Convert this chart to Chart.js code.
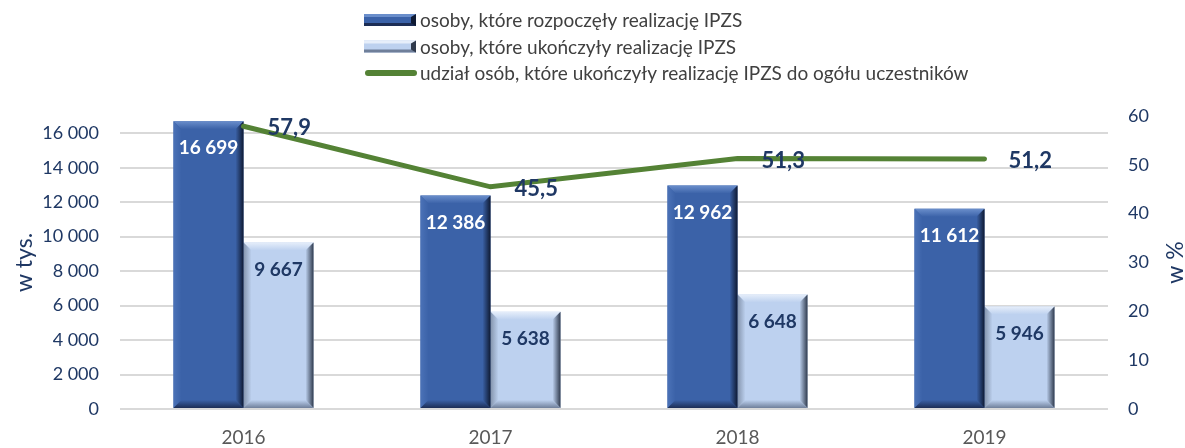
<!DOCTYPE html>
<html>
<head>
<meta charset="utf-8">
<script src="https://cdn.jsdelivr.net/npm/chart.js@4"></script>
<style>
  body { margin: 0; background: #fff; }
  #wrap { width: 1185px; height: 448px; position: relative; }
</style>
</head>
<body>
<div id="wrap"><canvas id="ipzsChart"></canvas></div>
<script>
const years = ["2016", "2017", "2018", "2019"];
const started = [16699, 12386, 12962, 11612];
const finished = [9667, 5638, 6648, 5946];
const sharePct = [57.9, 45.5, 51.3, 51.2];

const leftTicks = [0, 2000, 4000, 6000, 8000, 10000, 12000, 14000, 16000];

const labelStarted = "osoby, które rozpoczęły realizację IPZS";
const labelFinished = "osoby, które ukończyły realizację IPZS";
const labelShare = "udział osób, które ukończyły realizację IPZS do ogółu uczestników";

const navy = "#1F3864";
const FONT = "Lato, 'Open Sans', sans-serif";

const fmtThousands = (n) => String(n).replace(/\B(?=(\d{3})+(?!\d))/g, " ");
const fmtPct = (v) => v.toFixed(1).replace(".", ",");

// bevel colours per bar dataset: face, top (outer), left (outer), right (outer), bottom (outer)
const bevels = [
  { face: "#3B62A8", top: "#6a8ecb", left: "#4b72b7", right: "#0f1a33", bottom: "#1c2d55" },
  { face: "#BDD1EF", top: "#e6eefa", left: "#8494ad", right: "#2f3a4d", bottom: "#6f7f9a" }
];

function drawBevel(ctx, L, T, R, B, c) {
  const b = 8;
  const poly = (pts, fill) => {
    ctx.beginPath();
    ctx.moveTo(pts[0][0], pts[0][1]);
    for (let i = 1; i < pts.length; i++) ctx.lineTo(pts[i][0], pts[i][1]);
    ctx.closePath();
    ctx.fillStyle = fill;
    ctx.fill();
  };
  const grad = (x0, y0, x1, y1, outer) => {
    const g = ctx.createLinearGradient(x0, y0, x1, y1);
    g.addColorStop(0, outer);
    g.addColorStop(1, c.face);
    return g;
  };
  poly([[L, T], [R, T], [R - b, T + b], [L + b, T + b]], grad(0, T, 0, T + b, c.top));
  poly([[L, T], [L + b, T + b], [L + b, B - b], [L, B]], grad(L, 0, L + b, 0, c.left));
  poly([[R, T], [R, B], [R - b, B - b], [R - b, T + b]], grad(R, 0, R - b, 0, c.right));
  poly([[L, B], [R, B], [R - b, B - b], [L + b, B - b]], grad(0, B, 0, B - b, c.bottom));
}

const bevelPlugin = {
  id: "bevel",
  afterDatasetDraw(chart, args) {
    if (args.index > 1) return;
    const ctx = chart.ctx;
    ctx.save();
    args.meta.data.forEach((bar) => {
      const p = bar.getProps(["x", "y", "base", "width"], true);
      drawBevel(ctx, p.x - p.width / 2, p.y, p.x + p.width / 2, p.base, bevels[args.index]);
    });
    ctx.restore();
  }
};

const labelsPlugin = {
  id: "valueLabels",
  afterDatasetsDraw(chart) {
    const ctx = chart.ctx;
    ctx.save();
    ctx.font = "bold 19px " + FONT;
    ctx.textBaseline = "middle";
    [0, 1].forEach((di) => {
      const meta = chart.getDatasetMeta(di);
      meta.data.forEach((bar, i) => {
        ctx.fillStyle = di === 0 ? "#ffffff" : navy;
        ctx.textAlign = "center";
        ctx.fillText(fmtThousands(chart.data.datasets[di].data[i]), bar.x, bar.y + 27);
      });
    });
    ctx.font = "bold 22px " + FONT;
    const lm = chart.getDatasetMeta(2);
    lm.data.forEach((pt, i) => {
      ctx.fillStyle = navy;
      ctx.textAlign = "left";
      ctx.fillText(fmtPct(sharePct[i]), pt.x + 24, pt.y + 2);
    });

    // right axis title, reading bottom-to-top
    ctx.save();
    ctx.translate(1176, (chart.chartArea.top + chart.chartArea.bottom) / 2);
    ctx.rotate(-Math.PI / 2);
    ctx.font = "23px " + FONT;
    ctx.fillStyle = navy;
    ctx.textAlign = "center";
    ctx.fillText("w %", 0, 0);
    ctx.restore();

    // legend
    const rows = [
      { text: labelStarted, kind: 0 },
      { text: labelFinished, kind: 1 },
      { text: labelShare, kind: 2 }
    ];
    ctx.font = "19px " + FONT;
    ctx.textAlign = "left";
    rows.forEach((r, i) => {
      const y = 20 + i * 26.5;
      if (r.kind < 2) {
        const c = bevels[r.kind];
        ctx.fillStyle = c.face;
        ctx.fillRect(364, y - 6, 52, 12);
        ctx.fillStyle = c.top;
        ctx.fillRect(364, y - 6, 52, 3);
        ctx.fillStyle = c.bottom;
        ctx.fillRect(364, y + 3, 52, 3);
        ctx.fillStyle = c.right;
        ctx.beginPath();
        ctx.moveTo(416, y - 6); ctx.lineTo(416, y + 6); ctx.lineTo(411, y + 3); ctx.lineTo(411, y - 3);
        ctx.closePath(); ctx.fill();
      } else {
        ctx.strokeStyle = "#548235";
        ctx.lineWidth = 6;
        ctx.lineCap = "round";
        ctx.beginPath();
        ctx.moveTo(368, y); ctx.lineTo(414, y);
        ctx.stroke();
      }
      ctx.fillStyle = "#404040";
      ctx.fillText(r.text, 420, y + 1);
    });
    ctx.restore();
  }
};

new Chart(document.getElementById("ipzsChart"), {
  data: {
    labels: years,
    datasets: [
      {
        type: "bar",
        label: labelStarted,
        data: started,
        backgroundColor: bevels[0].face,
        yAxisID: "y",
        categoryPercentage: 0.567,
        barPercentage: 1.0,
        order: 1
      },
      {
        type: "bar",
        label: labelFinished,
        data: finished,
        backgroundColor: bevels[1].face,
        yAxisID: "y",
        categoryPercentage: 0.567,
        barPercentage: 1.0,
        order: 1
      },
      {
        type: "line",
        label: labelShare,
        data: sharePct,
        borderColor: "#548235",
        borderWidth: 5,
        borderCapStyle: "round",
        pointRadius: 0,
        tension: 0,
        yAxisID: "y1",
        order: 0
      }
    ]
  },
  options: {
    responsive: true,
    maintainAspectRatio: false,
    animation: false,
    layout: { padding: { top: 116, left: 0, right: 0, bottom: 0 } },
    plugins: {
      legend: { display: false },
      tooltip: { enabled: false }
    },
    scales: {
      x: {
        grid: { display: false, drawTicks: false },
        border: { display: false },
        ticks: { color: "#595959", font: { family: FONT, size: 19 }, padding: 17 },
        afterFit(s) { s.height = 39; }
      },
      y: {
        position: "left",
        min: 0,
        max: 17000,
        ticks: {
          stepSize: 2000,
          color: navy,
          font: { family: FONT, size: 18 },
          padding: 21,
          callback: (v) => fmtThousands(v)
        },
        afterBuildTicks(s) {
          s.ticks = leftTicks.map((v) => ({ value: v }));
        },
        grid: { color: "#d9d9d9", lineWidth: 2, drawTicks: false },
        border: { display: false },
        title: {
          display: true,
          text: "w tys.",
          color: navy,
          font: { family: FONT, size: 23 },
          padding: 11
        },
        afterFit(s) { s.width = 120; }
      },
      y1: {
        position: "right",
        min: 0,
        max: 60,
        ticks: {
          stepSize: 10,
          color: navy,
          font: { family: FONT, size: 18 },
          padding: 20
        },
        grid: { display: false, drawTicks: false },
        border: { display: false },
        afterFit(s) { s.width = 77; }
      }
    }
  },
  plugins: [bevelPlugin, labelsPlugin]
});
</script>
</body>
</html>
